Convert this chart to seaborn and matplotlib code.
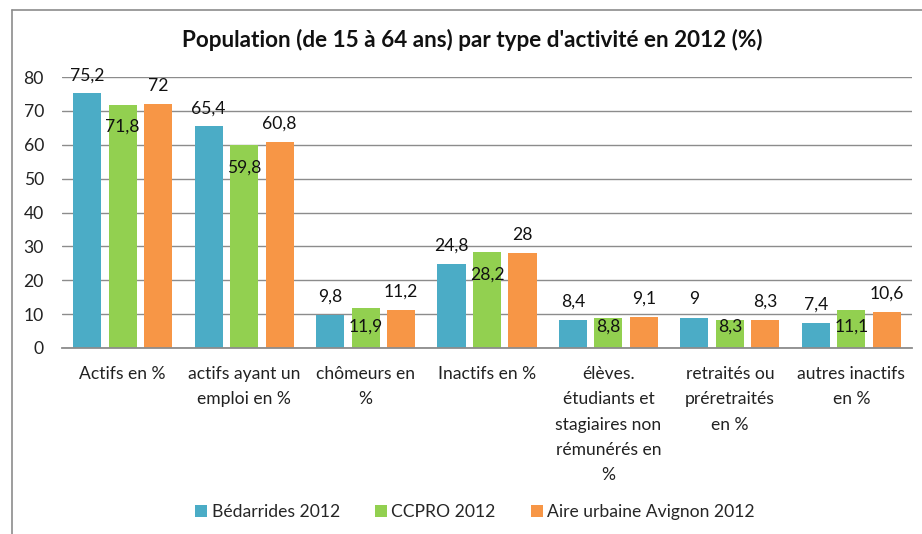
import matplotlib
matplotlib.use("Agg")
import matplotlib.pyplot as plt
import seaborn as sns
import pandas as pd
from matplotlib.lines import Line2D
from matplotlib.patches import Patch

categories = [
    "Actifs en %",
    "actifs ayant un\nemploi en %",
    "chômeurs en\n%",
    "Inactifs en %",
    "élèves.\nétudiants et\nstagiaires non\nrémunérés en\n%",
    "retraités ou\npréretraités\nen %",
    "autres inactifs\nen %",
]
series_names = ["Bédarrides 2012", "CCPRO 2012", "Aire urbaine Avignon 2012"]
bedarrides = [75.2, 65.4, 9.8, 24.8, 8.4, 9.0, 7.4]
ccpro = [71.8, 59.8, 11.9, 28.2, 8.8, 8.3, 11.1]
avignon = [72.0, 60.8, 11.2, 28.0, 9.1, 8.3, 10.6]
colors = ["#4BACC6", "#92D050", "#F79646"]
title = "Population (de 15 à 64 ans) par type d'activité en 2012 (%)"

rows = []
for name, vals in zip(series_names, [bedarrides, ccpro, avignon]):
    for c, v in zip(categories, vals):
        rows.append({"cat": c, "serie": name, "val": v})
df = pd.DataFrame(rows)

sns.set_theme(style="white")
plt.rcParams["font.family"] = ["Lato", "DejaVu Sans"]

FS = 12.6
fig = plt.figure(figsize=(9.22, 5.34), dpi=100)
W, H = 922, 534
ax = fig.add_axes([62 / W, 1 - 348 / H, (912 - 62) / W, (348 - 77) / H])

sns.barplot(data=df, x="cat", y="val", hue="serie", order=categories,
            hue_order=series_names, palette=colors, width=0.877, gap=0.21,
            saturation=1, ax=ax, legend=False, edgecolor="none")

ax.set_ylim(0, 80)
ax.set_yticks(range(0, 81, 10))
ax.yaxis.grid(True, color="#8c8c8c", linewidth=1)
ax.set_axisbelow(True)
for s in ["left", "right", "top"]:
    ax.spines[s].set_visible(False)
ax.spines["bottom"].set_color("#8c8c8c")
ax.spines["bottom"].set_linewidth(1.3)
ax.set_xlabel("")
ax.set_ylabel("")
ax.tick_params(axis="y", length=0, pad=13, labelsize=FS, labelcolor="#222222")
ax.tick_params(axis="x", length=0, pad=13, labelsize=FS, labelcolor="#222222")
for t in ax.get_xticklabels():
    t.set_linespacing(1.72)
    t.set_verticalalignment("top")

def fmt(v):
    s = ("%g" % v).replace(".", ",")
    return s

for i, cont in enumerate(ax.containers):
    for bar in cont:
        v = bar.get_height()
        x = bar.get_x() + bar.get_width() / 2
        if i == 1:
            # inside end, kept within the bar area for short bars
            ax.annotate(fmt(v), (x, max(v - 6.5, 6.4)),
                        ha="center", va="center", fontsize=FS, color="#111111")
        else:
            ax.annotate(fmt(v), (x, v), xytext=(0, 13), textcoords="offset points",
                        ha="center", va="center", fontsize=FS, color="#111111")

fig.text(472 / W, 1 - 40 / H, title, ha="center", va="center",
         fontsize=16.2, fontweight="bold", color="#111111")

handles = [Patch(facecolor=c, edgecolor="none") for c in colors]
fig.legend(handles, series_names, loc="center", bbox_to_anchor=(475 / W, 1 - 512 / H),
           ncol=3, frameon=False, fontsize=FS, handlelength=0.7, handleheight=0.7,
           handletextpad=0.25, columnspacing=2.0)

# outer frame
fig.add_artist(Line2D([12 / W, 12 / W], [0, 1 - 10 / H], transform=fig.transFigure,
                      color="#8c8c8c", linewidth=1.2))
fig.add_artist(Line2D([12 / W, 1], [1 - 10 / H, 1 - 10 / H], transform=fig.transFigure,
                      color="#8c8c8c", linewidth=1.2))

fig.savefig("out.png", dpi=100)
